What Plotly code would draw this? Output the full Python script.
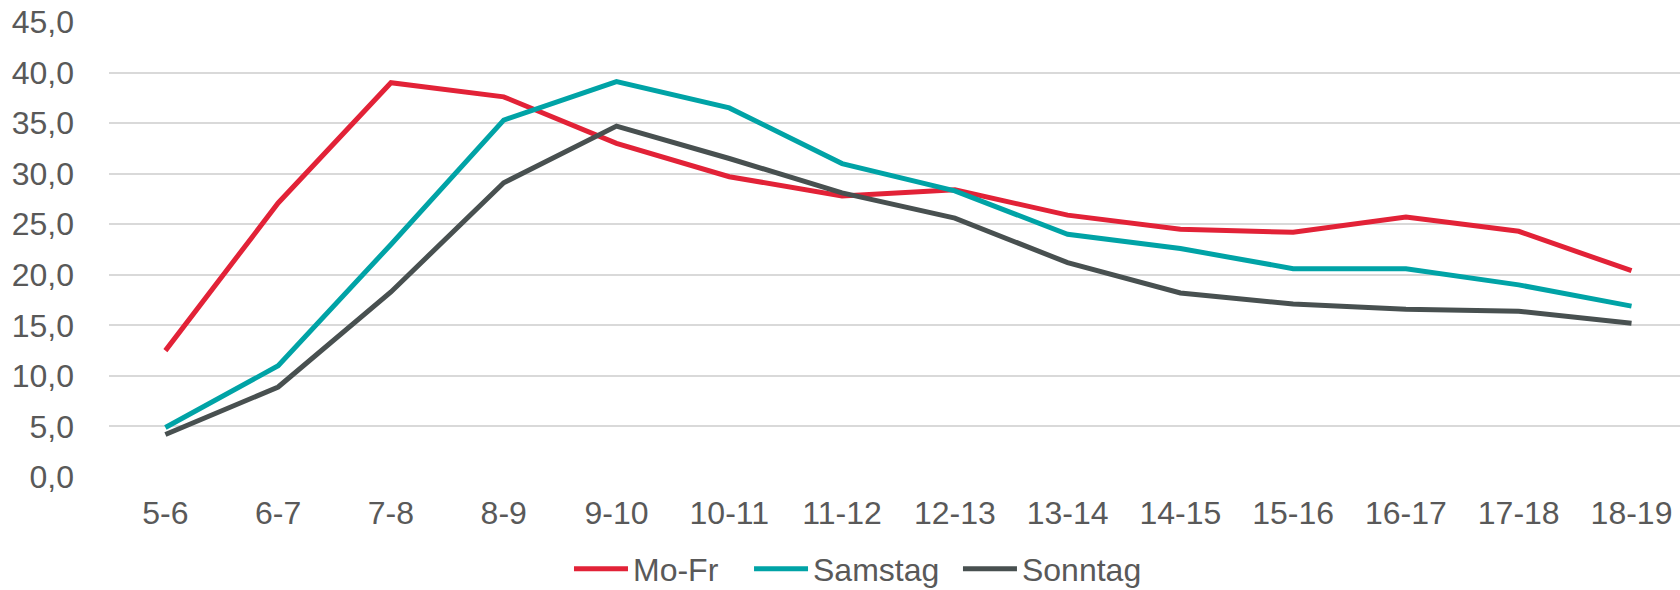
import plotly.graph_objects as go

categories = ["5-6", "6-7", "7-8", "8-9", "9-10", "10-11", "11-12", "12-13",
              "13-14", "14-15", "15-16", "16-17", "17-18", "18-19"]
mo_fr = [12.5, 27.1, 39.0, 37.6, 33.0, 29.7, 27.8, 28.4, 25.9, 24.5, 24.2, 25.7, 24.3, 20.4]
samstag = [4.9, 11.0, 23.0, 35.3, 39.1, 36.5, 31.0, 28.3, 24.0, 22.6, 20.6, 20.6, 19.0, 16.9]
sonntag = [4.2, 8.9, 18.3, 29.1, 34.7, 31.5, 28.1, 25.6, 21.2, 18.2, 17.1, 16.6, 16.4, 15.2]
series_names = ["Mo-Fr", "Samstag", "Sonntag"]
series_colors = ["#E22237", "#00A3A6", "#485050"]
legend_ids = ["legend", "legend2", "legend3"]
legend_x = [0.2928, 0.4074, 0.5404]

fig = go.Figure()
for name, vals, col, lg in zip(series_names, [mo_fr, samstag, sonntag], series_colors, legend_ids):
    fig.add_trace(go.Scatter(x=categories, y=vals, name=name, mode="lines",
                             line=dict(color=col, width=5), legend=lg))

font_fam = "Liberation Sans, Arial, sans-serif"
FS = 32
legend_common = dict(orientation="h", xanchor="left", y=-0.202, yanchor="middle",
                     font=dict(size=FS, color="#595959"), itemwidth=54,
                     bgcolor="rgba(0,0,0,0)")
fig.update_layout(
    width=1680, height=590,
    margin=dict(l=109, r=0, t=22, b=113, autoexpand=False),
    paper_bgcolor="white", plot_bgcolor="white",
    separators=",.",
    font=dict(family=font_fam, size=FS, color="#595959"),
    showlegend=True,
    legend=dict(x=legend_x[0], **legend_common),
    legend2=dict(x=legend_x[1], **legend_common),
    legend3=dict(x=legend_x[2], **legend_common),
    xaxis=dict(type="category", range=[-0.5, 13.43], showgrid=False, zeroline=False,
               showline=False, ticks="", ticklabelstandoff=14, automargin=False,
               tickfont=dict(size=FS, color="#595959")),
    yaxis=dict(range=[0, 45], dtick=5, tickformat=".1f", showgrid=True,
               gridcolor="#D9D9D9", gridwidth=2, zeroline=False, showline=False,
               ticks="", ticklabelstandoff=34, automargin=False,
               tickfont=dict(size=FS, color="#595959")),
)
fig.write_html("out.html", config={"displayModeBar": False},
               post_script="document.body.style.margin='0';document.body.style.overflow='hidden';")
